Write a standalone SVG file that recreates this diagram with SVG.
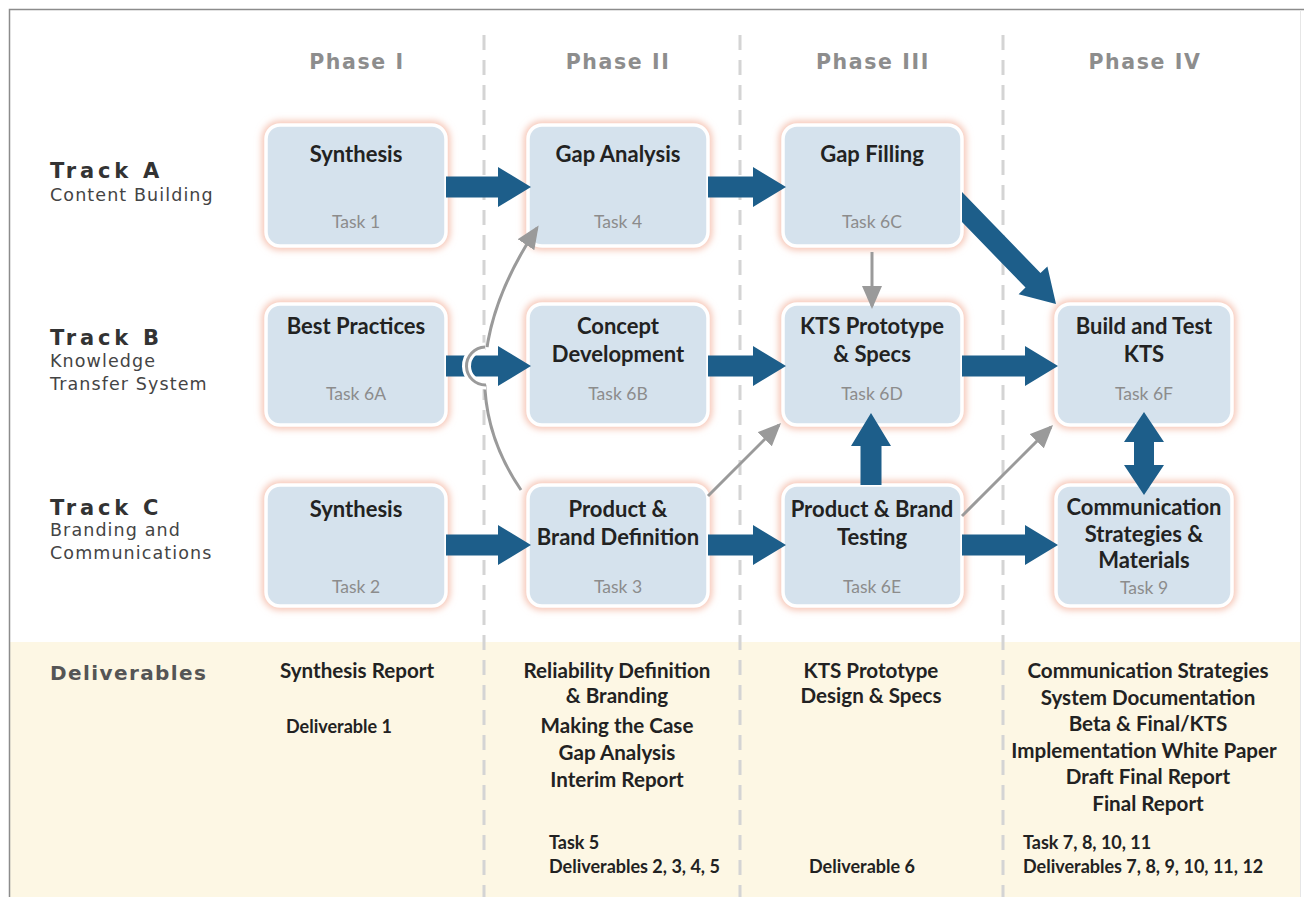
<svg xmlns="http://www.w3.org/2000/svg" width="1304" height="897" viewBox="0 0 1304 897">
<style>
.glow{fill:none;stroke:#f5c0ae;stroke-width:8;filter:url(#blur)}
.box{fill:#d5e2ed;stroke:#ffffff;stroke-width:3.5}
.ttl{font-family:Lato,"Liberation Sans",sans-serif;font-weight:700;font-size:22px;fill:#222;text-anchor:middle}
.task{font-family:Lato,"Liberation Sans",sans-serif;font-size:17.5px;fill:#8c8c8c;text-anchor:middle}
.phase{font-family:"DejaVu Sans",Verdana,sans-serif;font-weight:700;font-size:20.5px;fill:#8d8d8d;text-anchor:middle;letter-spacing:1.6px}
.trk{font-family:"DejaVu Sans",Verdana,sans-serif;font-weight:700;font-size:21px;fill:#333;letter-spacing:3.8px}
.trs{font-family:"DejaVu Sans",Verdana,sans-serif;font-size:17.5px;fill:#444;letter-spacing:1.1px}
.dh{font-family:"DejaVu Sans",Verdana,sans-serif;font-weight:700;font-size:20px;fill:#555;letter-spacing:1.4px}
.dl{font-family:Lato,"Liberation Sans",sans-serif;font-weight:700;font-size:20.6px;fill:#222;text-anchor:middle}
.ds{font-family:Lato,"Liberation Sans",sans-serif;font-weight:700;font-size:18px;fill:#222}
.dash{stroke:#d4d4d4;stroke-width:3;stroke-dasharray:15 10}
.blue{fill:#1d5e8a}
.gray{fill:none;stroke:#9a9a9a;stroke-width:3;marker-end:url(#gh)}
</style>
<defs>
<filter id="blur" x="-20%" y="-20%" width="140%" height="140%"><feGaussianBlur stdDeviation="3.5"/></filter>
<marker id="gh" markerUnits="userSpaceOnUse" markerWidth="24" markerHeight="20" refX="20" refY="10" orient="auto"><path d="M0,0 L23,10 L0,20 z" fill="#9a9a9a"/></marker>
<mask id="hopmask" maskUnits="userSpaceOnUse" x="0" y="0" width="1304" height="897"><rect x="0" y="0" width="1304" height="897" fill="#fff"/><circle cx="485" cy="366" r="19" fill="#000"/></mask>
</defs>
<rect x="0" y="0" width="1304" height="897" fill="#fff"/>
<rect x="10" y="642" width="1290" height="255" fill="#fdf7e4"/>
<path d="M9.5,897 V9.5 H1304" fill="none" stroke="#8c8c8c" stroke-width="1.5"/>
<path d="M1300.5,10 V897" fill="none" stroke="#e6e6e6" stroke-width="1"/>
<g id="dividers">
<line class="dash" x1="484" y1="35" x2="484" y2="897"/>
<line class="dash" x1="740" y1="35" x2="740" y2="897"/>
<line class="dash" x1="1003" y1="35" x2="1003" y2="897"/>
</g>
<g id="headers">
<text class="phase" x="357" y="69">Phase I</text>
<text class="phase" x="618" y="69">Phase II</text>
<text class="phase" x="873" y="69">Phase III</text>
<text class="phase" x="1145" y="69">Phase IV</text>
<text class="trk" x="50" y="178">Track A</text>
<text class="trs" x="50" y="201">Content Building</text>
<text class="trk" x="50" y="345">Track B</text>
<text class="trs" x="50" y="367">Knowledge</text>
<text class="trs" x="50" y="390">Transfer System</text>
<text class="trk" x="50" y="515">Track C</text>
<text class="trs" x="50" y="536">Branding and</text>
<text class="trs" x="50" y="559">Communications</text>
</g>
<g id="n-synthesis-a"><rect class="glow" x="266" y="125" width="180" height="121" rx="14"/><rect class="box" x="266" y="125" width="180" height="121" rx="14"/><text class="ttl" x="356" y="162">Synthesis</text><text class="task" x="356" y="228">Task 1</text></g>
<g id="n-gap-analysis"><rect class="glow" x="528" y="125" width="180" height="121" rx="14"/><rect class="box" x="528" y="125" width="180" height="121" rx="14"/><text class="ttl" x="618" y="162">Gap Analysis</text><text class="task" x="618" y="228">Task 4</text></g>
<g id="n-gap-filling"><rect class="glow" x="783" y="125" width="179" height="121" rx="14"/><rect class="box" x="783" y="125" width="179" height="121" rx="14"/><text class="ttl" x="872" y="162">Gap Filling</text><text class="task" x="872" y="228">Task 6C</text></g>
<g id="n-best-practices"><rect class="glow" x="266" y="304" width="180" height="121" rx="14"/><rect class="box" x="266" y="304" width="180" height="121" rx="14"/><text class="ttl" x="356" y="334">Best Practices</text><text class="task" x="356" y="400">Task 6A</text></g>
<g id="n-concept"><rect class="glow" x="528" y="304" width="180" height="121" rx="14"/><rect class="box" x="528" y="304" width="180" height="121" rx="14"/><text class="ttl" x="618" y="334">Concept</text><text class="ttl" x="618" y="362">Development</text><text class="task" x="618" y="400">Task 6B</text></g>
<g id="n-kts-prototype"><rect class="glow" x="783" y="304" width="179" height="121" rx="14"/><rect class="box" x="783" y="304" width="179" height="121" rx="14"/><text class="ttl" x="872" y="334">KTS Prototype</text><text class="ttl" x="872" y="362">&amp; Specs</text><text class="task" x="872" y="400">Task 6D</text></g>
<g id="n-build-test"><rect class="glow" x="1056" y="304" width="176" height="121" rx="14"/><rect class="box" x="1056" y="304" width="176" height="121" rx="14"/><text class="ttl" x="1144" y="334">Build and Test</text><text class="ttl" x="1144" y="362">KTS</text><text class="task" x="1144" y="400">Task 6F</text></g>
<g id="n-synthesis-c"><rect class="glow" x="266" y="485" width="180" height="121" rx="14"/><rect class="box" x="266" y="485" width="180" height="121" rx="14"/><text class="ttl" x="356" y="517">Synthesis</text><text class="task" x="356" y="593">Task 2</text></g>
<g id="n-product-brand"><rect class="glow" x="528" y="485" width="180" height="121" rx="14"/><rect class="box" x="528" y="485" width="180" height="121" rx="14"/><text class="ttl" x="618" y="517">Product &amp;</text><text class="ttl" x="618" y="545">Brand Definition</text><text class="task" x="618" y="593">Task 3</text></g>
<g id="n-testing"><rect class="glow" x="783" y="485" width="179" height="121" rx="14"/><rect class="box" x="783" y="485" width="179" height="121" rx="14"/><text class="ttl" x="872" y="517">Product &amp; Brand</text><text class="ttl" x="872" y="545">Testing</text><text class="task" x="872" y="593">Task 6E</text></g>
<g id="n-communication"><rect class="glow" x="1056" y="485" width="176" height="121" rx="14"/><rect class="box" x="1056" y="485" width="176" height="121" rx="14"/><text class="ttl" x="1144" y="515">Communication</text><text class="ttl" x="1144" y="542">Strategies &amp;</text><text class="ttl" x="1144" y="568">Materials</text><text class="task" x="1144" y="594">Task 9</text></g>
<g id="connectors">
<polygon class="blue" points="446,176.5 498,176.5 498,167 531,187 498,207 498,197.5 446,197.5"/>
<polygon class="blue" points="708,176.5 753,176.5 753,167 786,187 753,207 753,197.5 708,197.5"/>
<polygon class="blue" points="446,355.5 498,355.5 498,346 531,366 498,386 498,376.5 446,376.5"/>
<polygon class="blue" points="708,355.5 753,355.5 753,346 786,366 753,386 753,376.5 708,376.5"/>
<polygon class="blue" points="962,355.5 1025,355.5 1025,346 1058,366 1025,386 1025,376.5 962,376.5"/>
<polygon class="blue" points="446,534.5 498,534.5 498,525 531,545 498,565 498,555.5 446,555.5"/>
<polygon class="blue" points="708,534.5 753,534.5 753,525 786,545 753,565 753,555.5 708,555.5"/>
<polygon class="blue" points="962,534.5 1025,534.5 1025,525 1058,545 1025,565 1025,555.5 962,555.5"/>
<polygon class="blue" points="860.5,485 860.5,446 851,446 871,413 891,446 881.5,446 881.5,485"/>
<polygon class="blue" points="1144,412 1164,442 1154,442 1154,465 1164,465 1144,495 1124,465 1134,465 1134,442 1124,442"/>
<polygon class="blue" points="962,192 1040.5,273 1047.4,266.4 1056,304 1018.6,294.2 1025.5,287.6 962,222"/>
<line class="gray" x1="872" y1="252" x2="872" y2="306"/>
<line class="gray" x1="708" y1="496" x2="778.9" y2="425.1"/>
<line class="gray" x1="962" y1="516" x2="1050.9" y2="427.1"/>
<path class="gray" d="M521,490 Q441,373 537,228" mask="url(#hopmask)"/>
<path d="M486,385 A19,19 0 0 1 485,347" fill="none" stroke="#fff" stroke-width="9"/>
<path d="M486,385 A19,19 0 0 1 485,347" fill="none" stroke="#9a9a9a" stroke-width="3"/>
</g>
<g id="deliverables">
<text class="dh" x="50" y="680">Deliverables</text>
<text class="dl" x="357" y="678">Synthesis Report</text>
<text class="ds" x="286" y="733">Deliverable 1</text>
<text class="dl" x="617" y="678">Reliability Definition</text>
<text class="dl" x="617" y="703">&amp; Branding</text>
<text class="dl" x="617" y="733">Making the Case</text>
<text class="dl" x="617" y="760">Gap Analysis</text>
<text class="dl" x="617" y="787">Interim Report</text>
<text class="ds" x="549" y="849">Task 5</text>
<text class="ds" x="549" y="873">Deliverables 2, 3, 4, 5</text>
<text class="dl" x="871" y="678">KTS Prototype</text>
<text class="dl" x="871" y="703">Design &amp; Specs</text>
<text class="ds" x="809" y="873">Deliverable 6</text>
<text class="dl" x="1148" y="678">Communication Strategies</text>
<text class="dl" x="1148" y="705">System Documentation</text>
<text class="dl" x="1148" y="731">Beta &amp; Final/KTS</text>
<text class="dl" x="1144" y="758">Implementation White Paper</text>
<text class="dl" x="1148" y="784">Draft Final Report</text>
<text class="dl" x="1148" y="811">Final Report</text>
<text class="ds" x="1023" y="849">Task 7, 8, 10, 11</text>
<text class="ds" x="1023" y="873">Deliverables 7, 8, 9, 10, 11, 12</text>
</g>
</svg>
